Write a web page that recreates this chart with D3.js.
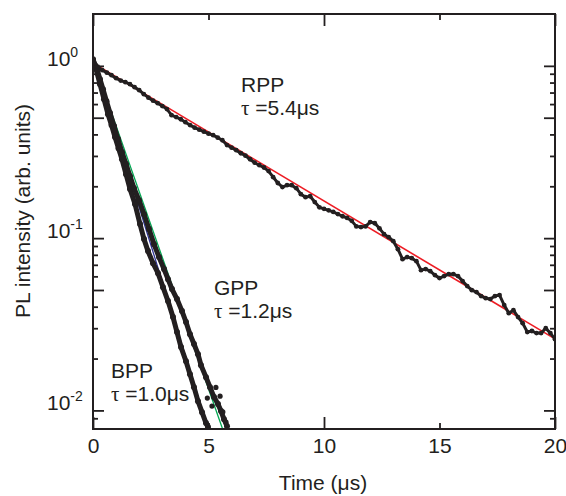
<!DOCTYPE html>
<html>
<head>
<meta charset="utf-8">
<script src="https://cdn.jsdelivr.net/npm/d3@7"></script>
<style>
  body { margin: 0; background: #fff; }
  text { font-family: "Liberation Sans", Arial, sans-serif; fill: #231f20; }
</style>
</head>
<body>
<script>
let width = 566, height = 496

// RPP decay, every 0.2 us
let rppT = [0, 0.2, 0.4, 0.6, 0.8, 1, 1.2, 1.4, 1.6, 1.8, 2, 2.2, 2.4, 2.6, 2.8, 3, 3.2, 3.4, 3.6, 3.8,
  4, 4.2, 4.4, 4.6, 4.8, 5, 5.2, 5.4, 5.6, 5.8, 6, 6.2, 6.4, 6.6, 6.8, 7, 7.2, 7.4, 7.6, 7.8,
  8, 8.2, 8.4, 8.6, 8.8, 9, 9.2, 9.4, 9.6, 9.8, 10, 10.2, 10.4, 10.6, 10.8, 11, 11.2, 11.4, 11.6, 11.8,
  12, 12.2, 12.4, 12.6, 12.8, 13, 13.2, 13.4, 13.6, 13.8, 14, 14.2, 14.4, 14.6, 14.8, 15, 15.2, 15.4, 15.6, 15.8,
  16, 16.2, 16.4, 16.6, 16.8, 17, 17.2, 17.4, 17.6, 17.8, 18, 18.2, 18.4, 18.6, 18.8, 19, 19.2, 19.4, 19.6, 19.8, 20]
let rppV = [1.065, 0.989, 0.944, 0.913, 0.883, 0.848, 0.821, 0.804, 0.783, 0.752, 0.723, 0.685, 0.654, 0.628, 0.607, 0.584, 0.561, 0.517, 0.504, 0.490,
  0.471, 0.453, 0.438, 0.426, 0.415, 0.404, 0.396, 0.383, 0.370, 0.347, 0.335, 0.324, 0.311, 0.301, 0.287, 0.274, 0.265, 0.257, 0.245, 0.226,
  0.209, 0.198, 0.203, 0.203, 0.195, 0.180, 0.173, 0.175, 0.162, 0.151, 0.148, 0.145, 0.142, 0.138, 0.134, 0.131, 0.126, 0.117, 0.116, 0.117,
  0.124, 0.122, 0.114, 0.1055, 0.1013, 0.0960, 0.0863, 0.0755, 0.0776, 0.0765, 0.0735, 0.0652, 0.0661, 0.0643, 0.0610, 0.0586, 0.0602, 0.0618, 0.0618, 0.0602,
  0.0563, 0.0527, 0.0499, 0.0486, 0.0461, 0.0448, 0.0443, 0.0461, 0.0467, 0.0409, 0.0367, 0.0382, 0.0348, 0.0321, 0.0285, 0.0289, 0.0281, 0.0281, 0.0300, 0.0281, 0.0259]

// GPP and BPP decays
let gppT = [0, 0.173, 0.303, 0.433, 0.584, 0.736, 0.909, 1.082, 1.255, 1.429, 1.602, 1.775, 1.991, 2.208, 2.424, 2.641, 2.857,
  3.074, 3.247, 3.42, 3.636, 3.853, 4.026, 4.199, 4.372, 4.545, 4.675, 4.892, 5.065, 5.238, 5.411, 5.541, 5.671, 5.801]
let gppV = [1.079, 0.957, 0.837, 0.732, 0.624, 0.532, 0.447, 0.3756, 0.3156, 0.269, 0.229, 0.195, 0.1662, 0.1378, 0.1128, 0.0923, 0.0776,
  0.0661, 0.0578, 0.0506, 0.0443, 0.0377, 0.0326, 0.0277, 0.0243, 0.0212, 0.0183, 0.0156, 0.01365, 0.01195, 0.01088, 0.00991, 0.0089, 0.0081]
let bppT = [0, 0.087, 0.303, 0.476, 0.649, 0.801, 0.952, 1.104, 1.255, 1.429, 1.602, 1.818, 2.035, 2.208, 2.381, 2.597, 2.814,
  3.03, 3.247, 3.463, 3.636, 3.81, 4.026, 4.199, 4.372, 4.545, 4.719, 4.892, 4.978]
let bppV = [1.094, 1.009, 0.783, 0.641, 0.524, 0.453, 0.386, 0.333, 0.287, 0.235, 0.193, 0.158, 0.1206, 0.0987, 0.0841, 0.0716, 0.0626,
  0.0519, 0.0431, 0.0348, 0.0285, 0.0233, 0.0193, 0.0162, 0.01365, 0.01132, 0.00977, 0.00844, 0.0080]
// stray points near the bottom of the GPP trace
let strayT = [5.50, 5.758, 5.15, 5.32, 4.95, 5.62]
let strayV = [0.0121, 0.00855, 0.0106, 0.0136, 0.0118, 0.0098]

// exponential fits, end points
let fitR = {t: [0.1, 20], v: [1.02, 0.026]}
let fitG = {t: [0, 5.61], v: [1.08, 0.0078]}
let fitB = {t: [0, 4.98], v: [1.1, 0.0078]}

let xTicksMajor = [0, 10, 20], xTicksMinor = [5, 15]
let xLabels = [0, 5, 10, 15, 20]
let yTicksMajor = [0.01, 0.05, 0.1, 0.5, 1]
let yTicksMinor = [0.009, 0.02, 0.03, 0.04, 0.06, 0.07, 0.08, 0.09, 0.2, 0.3, 0.4, 0.6, 0.7, 0.8, 0.9]
let yLabels = [{v: 1, e: '0'}, {v: 0.1, e: '-1'}, {v: 0.01, e: '-2'}]

let zip = (t, v) => t.map((d, i) => ({t: d, v: v[i]}))

let svg = d3.select('body').append('svg')
    .attr('width', width)
    .attr('height', height)

let x = d3.scaleLinear().domain([0, 20]).range([93, 555])
let y = d3.scaleLog().domain([0.0078, 2.0]).range([429, 14])

let line = d3.line().x(d => x(d.t)).y(d => y(d.v))

svg.append('clipPath').attr('id', 'plot')
    .append('rect').attr('x', 93).attr('y', 14).attr('width', 555 - 93).attr('height', 429 - 14)

// fit lines under the data
let fits = svg.append('g').attr('class', 'fits').attr('clip-path', 'url(#plot)')
fits.append('path').datum(zip(fitR.t, fitR.v)).attr('d', line)
    .attr('stroke', '#ed1c24').attr('stroke-width', 1.6).attr('fill', 'none')
fits.append('path').datum(zip(fitG.t, fitG.v)).attr('d', line)
    .attr('stroke', '#00a651').attr('stroke-width', 1.3).attr('fill', 'none')
fits.append('path').datum(zip(fitB.t, fitB.v)).attr('d', line)
    .attr('stroke', '#2e3192').attr('stroke-width', 1.3).attr('fill', 'none')

let dataG = svg.append('g').attr('class', 'data').attr('clip-path', 'url(#plot)')

// the traces are dense enough to look like thick bands
let traces = [
    {pts: zip(bppT, bppV), w: 5, r: 3},
    {pts: zip(gppT, gppV), w: 5, r: 3},
    {pts: zip(rppT, rppV), w: 3, r: 2.4}
]
traces.forEach(s => {
    dataG.append('path').datum(s.pts).attr('d', line)
        .attr('stroke', '#231f20').attr('stroke-width', s.w)
        .attr('stroke-linejoin', 'round').attr('fill', 'none')
    dataG.selectAll(null).data(s.pts).enter().append('circle')
        .attr('cx', d => x(d.t)).attr('cy', d => y(d.v)).attr('r', s.r)
        .attr('fill', '#231f20')
})

dataG.selectAll(null).data(zip(strayT, strayV)).enter().append('circle')
    .attr('cx', d => x(d.t)).attr('cy', d => y(d.v)).attr('r', 2.6)
    .attr('fill', '#231f20')

// axes, ticks pointing inward
function axisG(axis, tx, ty) {
    let g = svg.append('g').attr('transform', `translate(${tx},${ty})`).call(axis)
    g.select('.domain').remove()
    g.selectAll('line').attr('stroke', '#231f20').attr('stroke-width', 1.8)
    return g
}
axisG(d3.axisBottom(x).tickValues(xTicksMajor).tickSize(-12).tickFormat(''), 0, 429)
axisG(d3.axisBottom(x).tickValues(xTicksMinor).tickSize(-6).tickFormat(''), 0, 429)
axisG(d3.axisTop(x).tickValues(xTicksMajor).tickSize(-12).tickFormat(''), 0, 14)
axisG(d3.axisTop(x).tickValues(xTicksMinor).tickSize(-6).tickFormat(''), 0, 14)
axisG(d3.axisLeft(y).tickValues(yTicksMajor).tickSize(-11).tickFormat(''), 93, 0)
axisG(d3.axisLeft(y).tickValues(yTicksMinor).tickSize(-5).tickFormat(''), 93, 0)
axisG(d3.axisRight(y).tickValues(yTicksMajor).tickSize(-11).tickFormat(''), 555, 0)
axisG(d3.axisRight(y).tickValues(yTicksMinor).tickSize(-5).tickFormat(''), 555, 0)

let xl = axisG(d3.axisBottom(x).tickValues(xLabels).tickSize(0).tickPadding(9).tickFormat(d3.format('d')), 0, 429)
xl.selectAll('text').attr('font-size', 21).attr('font-family', '"Liberation Sans", Arial, sans-serif')
    .attr('fill', '#231f20')

svg.append('rect')
    .attr('x', 93).attr('y', 14).attr('width', 555 - 93).attr('height', 429 - 14)
    .attr('fill', 'none').attr('stroke', '#231f20').attr('stroke-width', 2)

let yl = svg.append('g').selectAll('text').data(yLabels).enter().append('text')
    .attr('x', 47).attr('y', d => y(d.v)).attr('font-size', 21)
yl.append('tspan').text('10')
yl.append('tspan').attr('dy', -9).attr('font-size', 14).text(d => d.e)

// axis titles
svg.append('text').attr('x', 323).attr('y', 490).attr('text-anchor', 'middle')
    .attr('font-size', 21).text('Time (μs)')
svg.append('text').attr('transform', 'translate(30,211) rotate(-90)').attr('text-anchor', 'middle')
    .attr('font-size', 21).text('PL intensity (arb. units)')

// annotations
let notes = [
    {name: 'RPP', tau: '5.4', x: 241, y: 92},
    {name: 'GPP', tau: '1.2', x: 214, y: 295},
    {name: 'BPP', tau: '1.0', x: 111, y: 378}
]
notes.forEach(n => {
    svg.append('text').attr('x', n.x).attr('y', n.y).attr('font-size', 21).text(n.name)
    let t = svg.append('text').attr('x', n.x).attr('y', n.y + 23).attr('font-size', 21)
    t.append('tspan').attr('font-family', '"Liberation Serif", serif').text('τ')
    t.append('tspan').text(' =' + n.tau + 'μs')
})
</script>
</body>
</html>
